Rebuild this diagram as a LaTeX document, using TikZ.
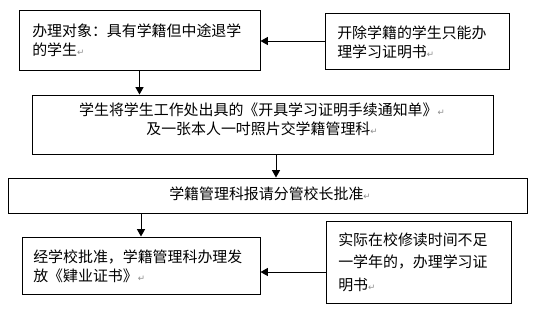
\documentclass[tikz,border=0pt]{standalone}
\usepackage{fontspec}
\usetikzlibrary{arrows.meta}
\newfontfamily\cjk{Noto Sans CJK SC}
\newfontfamily\dejavu{DejaVu Sans}
\newcommand\pmk{{\dejavu\fontsize{6.5}{6.5}\selectfont\textcolor{black!45}{↵}}}
\begin{document}
\begin{tikzpicture}[x=0.75pt,y=-0.75pt,
  box/.style={draw, line width=0.75pt, inner sep=0pt, fill=white},
  txt/.style={font=\cjk\fontsize{11.2pt}{14.25pt}\selectfont, inner sep=0pt, align=left},
  arr/.style={line width=0.75pt, -{Triangle[length=5.5pt,width=6pt]}}]
\useasboundingbox (0,0) rectangle (536,308);
% boxes
\node[box, minimum width=180.75pt, minimum height=45pt] (b1) at (139.5,40) {};
\node[box, minimum width=138pt, minimum height=42pt] (b2) at (417,41) {};
\node[box, minimum width=345.75pt, minimum height=44.25pt] (b3) at (262.5,124.5) {};
\node[box, minimum width=389.25pt, minimum height=26.25pt] (b4) at (267.5,195.5) {};
\node[box, minimum width=178.5pt, minimum height=42.75pt] (b5) at (141,265.5) {};
\node[box, minimum width=138.75pt, minimum height=61.5pt] (b6) at (418.5,262) {};
% texts
\node[txt, anchor=west] (t1) at (32,40.5) {办理对象：具有学籍但中途退学\\的学生\pmk};
\node[txt, anchor=west] (t2) at (337,42.5) {开除学籍的学生只能办\\理学习证明书\pmk};
\node[txt, align=center] (t3) at (262,119) {学生将学生工作处出具的《开具学习证明手续通知单》\pmk\\及一张本人一吋照片交学籍管理科\pmk};
\node[txt] (t4) at (270,194) {学籍管理科报请分管校长批准\pmk};
\node[txt, anchor=west] (t5) at (33,266) {经学校批准，学籍管理科办理发\\放《肄业证书》\pmk};
\node[txt, anchor=west, font=\cjk\fontsize{11.2pt}{17pt}\selectfont] (t6) at (338,262) {实际在校修读时间不足\\一学年的，办理学习证\\明书\pmk};
% connectors
\draw[arr] (b2.west) -- (b2.west -| b1.east);
\draw[arr] (b1.south) -- (b1.south |- b3.north);
\draw[arr] ([xshift=10.125pt]b3.south) -- ([xshift=10.125pt]b3.south |- b4.north);
\draw[arr] (b5.north |- b4.south) -- (b5.north);
\draw[arr] ([yshift=-7.5pt]b6.west) -- ([yshift=-7.5pt]b6.west -| b5.east);
\end{tikzpicture}
\end{document}
